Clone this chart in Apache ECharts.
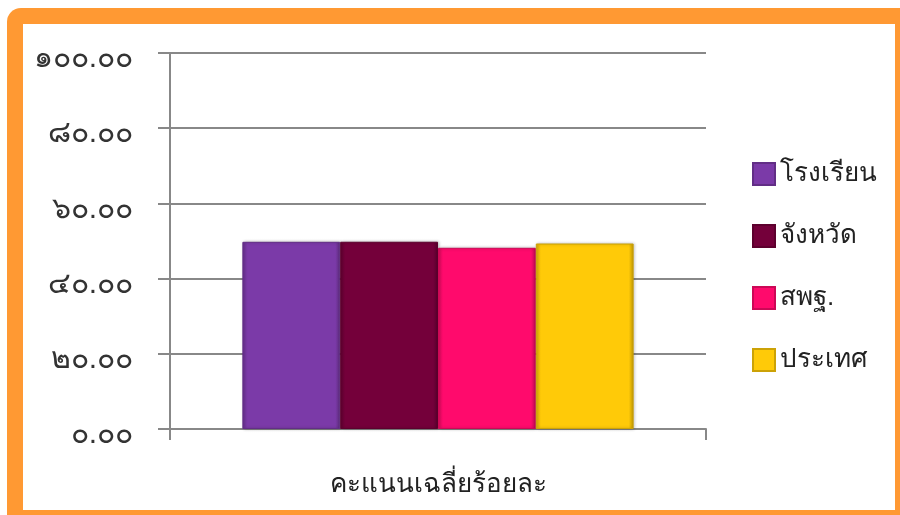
<!DOCTYPE html>
<html><head><meta charset="utf-8">
<script src="https://cdn.jsdelivr.net/npm/echarts@6/dist/echarts.min.js"></script>
<style>html,body{margin:0;padding:0;background:#fff}#c{width:900px;height:515px}</style>
</head><body><div id="c"></div>
<script>
var categories = ['คะแนนเฉลี่ยร้อยละ'];
var seriesNames = ['โรงเรียน', 'จังหวัด', 'สพฐ.', 'ประเทศ'];
var seriesValues = [[49.78], [49.80], [48.19], [49.33]];
var seriesColors = ['#7b3aa8', '#74003a', '#ff0a6c', '#ffca08'];
var thaiDigits = ['๐','๑','๒','๓','๔','๕','๖','๗','๘','๙'];

function toThai(v) {
  return v.toFixed(2).replace(/[0-9]/g, function (d) { return thaiDigits[+d]; });
}
function shade(hex, f) {
  var n = parseInt(hex.slice(1), 16), r = n >> 16, g = (n >> 8) & 255, b = n & 255;
  function m(c) { return Math.max(0, Math.min(255, Math.round(f < 0 ? c * (1 + f) : c + (255 - c) * f))); }
  return 'rgb(' + m(r) + ',' + m(g) + ',' + m(b) + ')';
}
var chart = echarts.init(document.getElementById('c'));
var series = seriesNames.map(function (name, i) {
  var c = seriesColors[i];
  return {
    name: name, type: 'bar', data: seriesValues[i],
    barGap: '0%', barCategoryGap: '27%',
    itemStyle: {
      color: new echarts.graphic.LinearGradient(0, 0, 1, 0, [
        {offset: 0, color: shade(c, -0.15)},
        {offset: 0.05, color: c},
        {offset: 0.95, color: c},
        {offset: 1, color: shade(c, -0.25)}
      ]),
      borderColor: shade(c, -0.2), borderWidth: 1,
      shadowColor: 'rgba(0,0,0,0.25)', shadowBlur: 3, shadowOffsetX: 1
    }
  };
});
chart.setOption({
  animation: false,
  graphic: [
    {type: 'rect', z: -10, shape: {x: 7, y: 8, width: 920, height: 530, r: 14}, style: {fill: '#ff9933'}},
    {type: 'rect', z: -9, shape: {x: 23, y: 24, width: 872, height: 486}, style: {fill: '#ffffff'}}
  ],
  grid: {left: 170, right: 194, top: 53, bottom: 86},
  legend: {
    orient: 'vertical', left: 747, top: 154,
    icon: 'rect', itemWidth: 22, itemHeight: 22, itemGap: 32,
    textStyle: {fontSize: 26, lineHeight: 30, color: '#222', fontFamily: 'sans-serif'},
    data: seriesNames
  },
  xAxis: {
    type: 'category', data: categories,
    axisLine: {lineStyle: {color: '#888', width: 2}},
    axisTick: {show: true, length: 11, lineStyle: {color: '#888', width: 2}},
    axisLabel: {fontSize: 26, color: '#222', margin: 43, fontFamily: 'sans-serif'}
  },
  yAxis: {
    type: 'value', min: 0, max: 100, interval: 20,
    axisLine: {show: true, lineStyle: {color: '#888', width: 2}},
    axisTick: {show: true, length: 12, lineStyle: {color: '#888', width: 2}},
    splitLine: {lineStyle: {color: '#888', width: 2}},
    axisLabel: {fontSize: 30, fontWeight: 300, color: '#333', margin: 37, verticalAlign: 'top', lineHeight: 12, formatter: toThai, fontFamily: 'sans-serif'}
  },
  series: series
});
</script></body></html>
